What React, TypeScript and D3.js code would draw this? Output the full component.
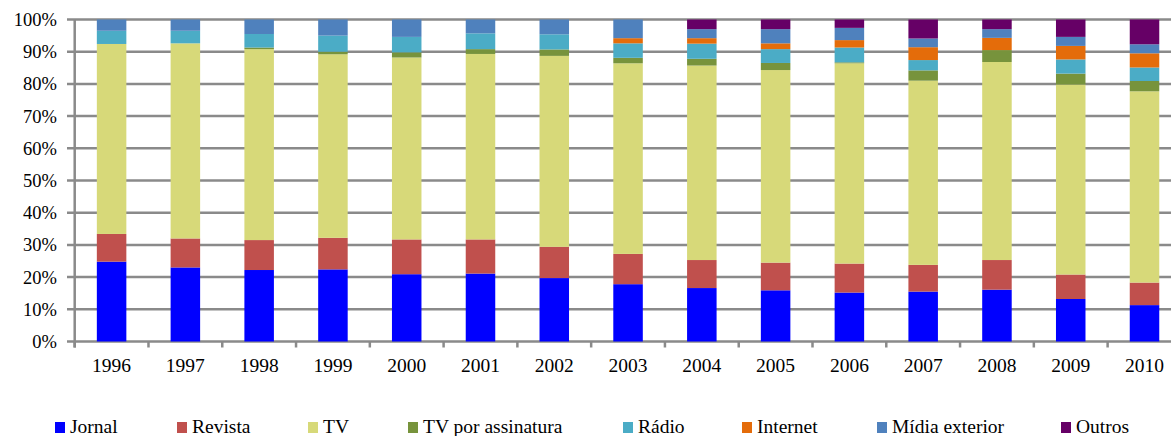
import React from 'react';
import * as d3 from 'd3';

const years = ['1996', '1997', '1998', '1999', '2000', '2001', '2002', '2003', '2004', '2005', '2006', '2007', '2008', '2009', '2010'];
const seriesNames = ['Jornal', 'Revista', 'TV', 'TV por assinatura', 'Rádio', 'Internet', 'Mídia exterior', 'Outros'];
const seriesColors = ['#0000FF', '#C0504D', '#D7D979', '#77933C', '#4BACC6', '#E46C0A', '#4F81BD', '#660066'];

// shares in %, per year
const jornal = [24.8, 23.0, 22.2, 22.4, 20.9, 21.1, 19.7, 17.8, 16.6, 15.9, 15.2, 15.5, 16.1, 13.2, 11.3];
const revista = [8.6, 9.0, 9.3, 9.8, 10.8, 10.6, 9.7, 9.4, 8.7, 8.6, 9.0, 8.3, 9.2, 7.6, 7.0];
const tv = [59.0, 60.6, 59.3, 57.0, 56.5, 57.6, 59.3, 59.2, 60.4, 59.8, 62.2, 57.2, 61.5, 59.0, 59.4];
const tvAssinatura = [0, 0, 0.5, 0.8, 1.6, 1.5, 2.0, 1.7, 2.1, 2.2, 0.3, 3.2, 3.7, 3.4, 3.2];
const radio = [4.1, 3.9, 4.2, 5.0, 4.8, 4.9, 4.7, 4.5, 4.7, 4.3, 4.6, 3.2, 0, 4.4, 4.2];
const internet = [0, 0, 0, 0, 0, 0, 0, 1.6, 1.7, 1.8, 2.3, 4.0, 3.8, 4.2, 4.4];
const midiaExterior = [3.5, 3.5, 4.5, 5.0, 5.4, 4.3, 4.6, 5.8, 2.8, 4.4, 3.8, 2.7, 2.7, 2.8, 2.8];
const outros = [0, 0, 0, 0, 0, 0, 0, 0, 3.0, 3.0, 2.6, 5.9, 3.0, 5.4, 7.7];

const yTicks = [0, 10, 20, 30, 40, 50, 60, 70, 80, 90, 100];

const W = 1171;
const H = 436;
const x0 = 74.7;
const x1 = 1181.4;
const yBottom = 341.5;
const yTop = 19.5;
const gridColor = '#8A8A8A';
const font = 'Liberation Serif, serif';

export default function App() {
  const all = [jornal, revista, tv, tvAssinatura, radio, internet, midiaExterior, outros];
  const rows = years.map((yr, i) => {
    const r: Record<string, any> = { year: yr };
    seriesNames.forEach((s, k) => { r[s] = all[k][i]; });
    return r;
  });
  const stacked = d3.stack<any>().keys(seriesNames)(rows);

  const x = d3.scaleBand<string>().domain(years).range([x0, x1]).paddingInner(0.6).paddingOuter(0.3);
  const y = d3.scaleLinear().domain([0, 100]).range([yBottom, yTop]);
  const step = x.step();
  const boundaries = d3.range(years.length + 1).map(k => x0 + k * step);

  const legendX = [55, 177, 308, 408, 623, 742, 877, 1061];

  return (
    <svg width={W} height={H} style={{ position: 'absolute', left: 0, top: 0, background: '#fff' }}>
      {/* gridlines */}
      {yTicks.map(t => (
        <line key={t} x1={67} x2={W} y1={y(t)} y2={y(t)} stroke={gridColor} strokeWidth={2.5} />
      ))}
      {/* y axis */}
      <line x1={x0} x2={x0} y1={yTop} y2={yBottom + 6} stroke={gridColor} strokeWidth={2.5} />
      {boundaries.map((bx, k) => (
        <line key={k} x1={bx} x2={bx} y1={yBottom} y2={yBottom + 6} stroke={gridColor} strokeWidth={2.5} />
      ))}
      {/* bars */}
      {stacked.map((layer, k) => (
        <g key={layer.key} fill={seriesColors[k]}>
          {layer.map((d, i) => (
            d[1] - d[0] > 0 ? (
              <rect key={i} x={x(years[i])} width={x.bandwidth()} y={y(d[1])} height={y(d[0]) - y(d[1])} />
            ) : null
          ))}
        </g>
      ))}
      <g fontFamily={font} fill="#000">
        {/* y labels */}
        {yTicks.map(t => (
          <text key={t} x={57} y={y(t)} dy="0.35em" textAnchor="end" fontSize={18.5}>{t}%</text>
        ))}
        {/* x labels */}
        {years.map(yr => (
          <text key={yr} x={(x(yr) as number) + x.bandwidth() / 2} y={371.5} textAnchor="middle" fontSize={19.5}>{yr}</text>
        ))}
        {/* legend */}
        {seriesNames.map((s, k) => (
          <g key={s}>
            <rect x={legendX[k]} y={422} width={10} height={11} fill={seriesColors[k]} />
            <text x={legendX[k] + 15} y={433} fontSize={19.5}>{s}</text>
          </g>
        ))}
      </g>
    </svg>
  );
}
